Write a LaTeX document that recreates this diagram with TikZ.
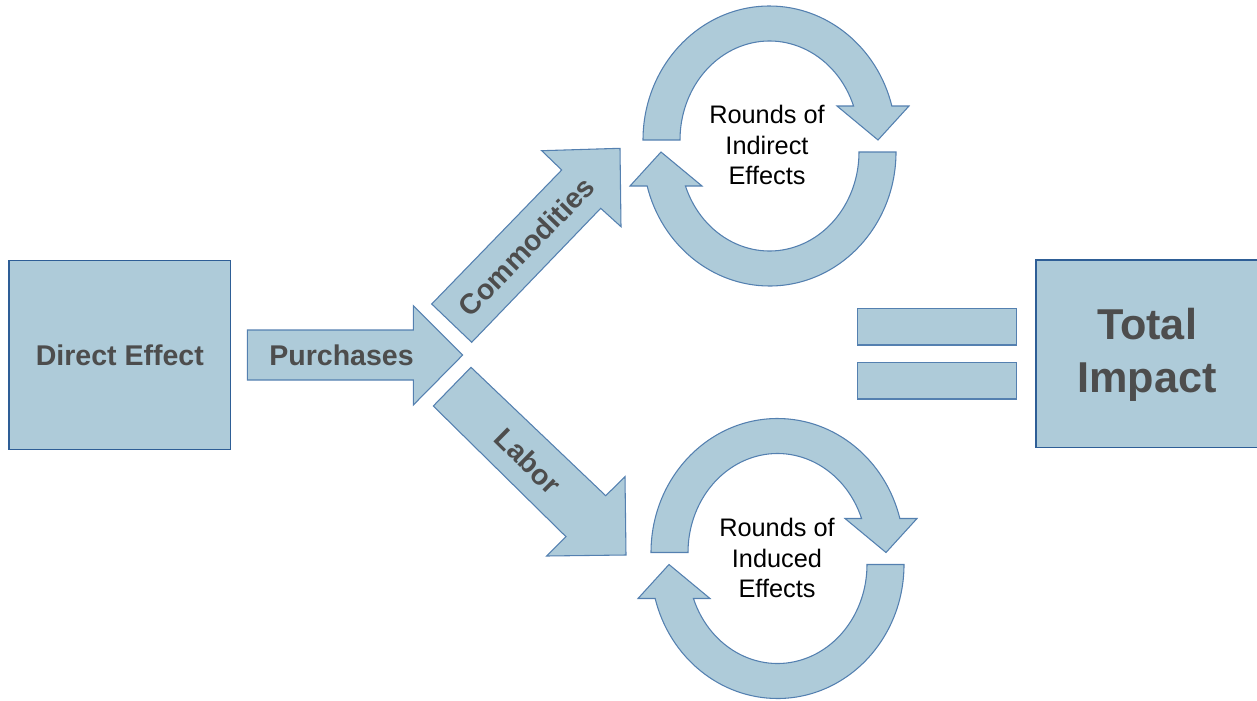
\documentclass[tikz,border=0pt]{standalone}
\usepackage{fontspec}
\setmainfont{Liberation Sans}
\definecolor{fillblue}{RGB}{174,203,217}
\definecolor{boxline}{RGB}{46,94,150}
\definecolor{arrline}{RGB}{84,128,176}
\definecolor{txtgray}{RGB}{77,77,77}
\tikzset{
  bigbox/.style={draw=boxline, line width=1pt, fill=fillblue, inner sep=0pt},
  blockarr/.style={draw=arrline, line width=0.8pt, fill=fillblue, line join=miter},
  lbl/.style={text=txtgray, font=\bfseries\fontsize{21.4}{25}\selectfont, inner sep=0pt},
  roundtxt/.style={text=black, align=center, font=\fontsize{19}{22.9}\selectfont, inner sep=0pt},
  halfcyc/.pic={
    \path[blockarr] (-126.5,6) arc[start angle=180,end angle=14.7,x radius=126.5,y radius=134]
      -- (139.5,40) -- (108.5,6) -- (67.5,40) -- (84.06,40)
      arc[start angle=20.09,end angle=180,x radius=89.5,y radius=99] -- cycle;
  }
}
\begin{document}
\begin{tikzpicture}[x=0.75pt,y=0.75pt]
\useasboundingbox (0,0) rectangle (1257,-700);
% Direct effect box
\node[bigbox, minimum width=221.7*0.75pt, minimum height=188.6*0.75pt,
  lbl, text=txtgray] (direct) at (119.85,-355) {Direct Effect};
% Purchases arrow
\path[blockarr] (247.3,-330) -- (413.3,-330) -- (413.3,-305.7) -- (462.7,-355)
  -- (413.3,-405) -- (413.3,-380) -- (247.3,-380) -- cycle;
\node[lbl] (purch) at (341.5,-355) {Purchases};
% Commodities arrow
\path[blockarr] (431.7,-304) -- (561.7,-170) -- (541.7,-150.7) -- (620,-148.3)
  -- (621,-226.7) -- (600.7,-208.3) -- (471.7,-342.3) -- cycle;
\node[lbl, rotate=45.9] (comm) at (526.5,-246.5) {Commodities};
% Labor arrow
\path[blockarr] (433.3,-406) -- (471,-367.3) -- (605.7,-495.7) -- (625,-476.7)
  -- (626,-555) -- (546.7,-556) -- (566,-536.7) -- cycle;
\node[lbl, rotate=-44.6] (labor) at (528,-461) {Labor};
% Cycles
\begin{scope}[shift={(769.5,-146)}]
  \pic {halfcyc};
  \pic[rotate=180] {halfcyc};
\end{scope}
\node[roundtxt] (indirect) at (767,-145) {Rounds of\\Indirect\\Effects};
\begin{scope}[shift={(777.5,-558.5)}]
  \pic {halfcyc};
  \pic[rotate=180] {halfcyc};
\end{scope}
\node[roundtxt] (induced) at (777,-558) {Rounds of\\Induced\\Effects};
% Equals sign
\path[blockarr] (857.7,-308.3) rectangle (1016.7,-345);
\path[blockarr] (857.7,-362.7) rectangle (1016.7,-399);
% Total impact box
\node[bigbox, minimum width=222*0.75pt, minimum height=187.3*0.75pt] (totalbox) at (1147,-353.65) {};
\node[text=txtgray, align=center, inner sep=0pt,
  font=\bfseries\fontsize{32.4}{39.75}\selectfont] (total) at (1147,-355) {Total\\Impact};
\end{tikzpicture}
\end{document}
